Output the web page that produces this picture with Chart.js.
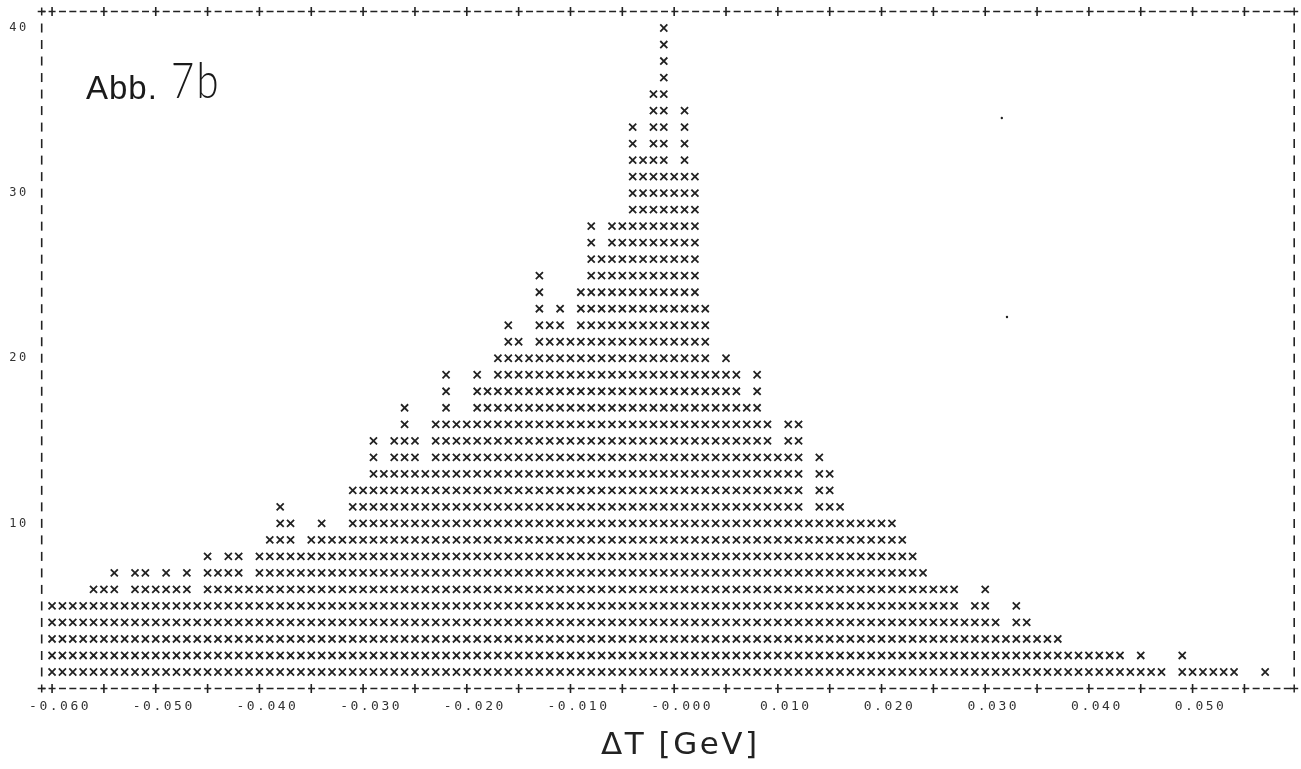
<!DOCTYPE html>
<html>
<head>
<meta charset="utf-8">
<title>Abb. 7b</title>
<script src="https://cdn.jsdelivr.net/npm/chart.js@4/dist/chart.umd.min.js"></script>
<style>
  html, body { margin: 0; padding: 0; background: #fff; }
  canvas { display: block; }
</style>
</head>
<body>
<canvas id="histogram" width="1301" height="769"></canvas>
<script>
'use strict';

// ─── Data ─────────────────────────────────────────────────────────────────────

// centre of each printer column, GeV
const binCentres = [
  -0.060, -0.059, -0.058, -0.057, -0.056, -0.055, -0.054, -0.053, -0.052, -0.051,
  -0.050, -0.049, -0.048, -0.047, -0.046, -0.045, -0.044, -0.043, -0.042, -0.041,
  -0.040, -0.039, -0.038, -0.037, -0.036, -0.035, -0.034, -0.033, -0.032, -0.031,
  -0.030, -0.029, -0.028, -0.027, -0.026, -0.025, -0.024, -0.023, -0.022, -0.021,
  -0.020, -0.019, -0.018, -0.017, -0.016, -0.015, -0.014, -0.013, -0.012, -0.011,
  -0.010, -0.009, -0.008, -0.007, -0.006, -0.005, -0.004, -0.003, -0.002, -0.001,
  0.000, 0.001, 0.002, 0.003, 0.004, 0.005, 0.006, 0.007, 0.008, 0.009,
  0.010, 0.011, 0.012, 0.013, 0.014, 0.015, 0.016, 0.017, 0.018, 0.019,
  0.020, 0.021, 0.022, 0.023, 0.024, 0.025, 0.026, 0.027, 0.028, 0.029,
  0.030, 0.031, 0.032, 0.033, 0.034, 0.035, 0.036, 0.037, 0.038, 0.039,
  0.040, 0.041, 0.042, 0.043, 0.044, 0.045, 0.046, 0.047, 0.048, 0.049,
  0.050, 0.051, 0.052, 0.053, 0.054, 0.055, 0.056, 0.057,
];

// number of x marks printed in each column
const binCounts = [
  5, 5, 5, 5, 6, 6, 7, 5, 7, 7,
  6, 7, 6, 7, 5, 8, 7, 8, 8, 6,
  8, 9, 11, 10, 8, 9, 10, 9, 9, 12,
  12, 15, 13, 15, 17, 15, 13, 16, 19, 16,
  16, 19, 18, 20, 22, 21, 20, 25, 22, 23,
  21, 24, 28, 26, 28, 28, 34, 32, 36, 40,
  31, 35, 31, 23, 19, 20, 19, 17, 19, 16,
  14, 16, 16, 10, 14, 13, 11, 10, 10, 10,
  10, 10, 9, 8, 7, 6, 6, 6, 4, 5,
  6, 4, 3, 5, 4, 3, 3, 3, 2, 2,
  2, 2, 2, 2, 1, 2, 1, 1, 0, 2,
  1, 1, 1, 1, 1, 0, 0, 1,
];

const xTickValues = [
  -0.060, -0.055, -0.050, -0.045, -0.040, -0.035, -0.030, -0.025, -0.020, -0.015, -0.010, -0.005,
  0.000, 0.005, 0.010, 0.015, 0.020, 0.025, 0.030, 0.035, 0.040, 0.045, 0.050, 0.055,
];
const xTickLabels = [
  '-0.060', '', '-0.050', '', '-0.040', '', '-0.030', '', '-0.020', '', '-0.010', '',
  '-0.000', '', '0.010', '', '0.020', '', '0.030', '', '0.040', '', '0.050', '',
];
const yTickValues = [10, 20, 30, 40];
const yTickLabels = ['10', '20', '30', '40'];

// stray specks on the scan
const speckX = [0.0316, 0.0321];
const speckY = [34.55, 22.5];

const X_MIN = -0.061;
const X_MAX = 0.0598;
const Y_MAX = 41;
const INK = '#222';

// ─── Point lists ──────────────────────────────────────────────────────────────

const histogramPoints = [];
binCounts.forEach((count, i) => {
  for (let row = 1; row <= count; row++) {
    histogramPoints.push({ x: binCentres[i], y: row });
  }
});

const frameMarks = [];
xTickValues.forEach((x) => {
  frameMarks.push({ x, y: 0 }, { x, y: Y_MAX });
});
for (let row = 1; row <= 40; row++) {
  frameMarks.push({ x: X_MIN, y: row }, { x: X_MAX, y: row });
}

const frameCorners = [
  { x: X_MIN, y: 0 }, { x: X_MAX, y: 0 },
  { x: X_MIN, y: Y_MAX }, { x: X_MAX, y: Y_MAX },
];

function dashedRule(y) {
  return {
    label: 'Frame rule',
    data: [{ x: X_MIN, y }, { x: X_MAX, y }],
    showLine: true,
    clip: false,
    pointRadius: 0,
    borderColor: INK,
    borderWidth: 1.4,
    borderDash: [7, 3.38],
    borderDashOffset: 3.5,
  };
}

// ─── Plugins ──────────────────────────────────────────────────────────────────

// the printout has very wide character spacing
const wideText = {
  id: 'wideText',
  beforeDraw(chart) {
    chart.ctx.letterSpacing = '2.5px';
  },
};

const figureLabel = {
  id: 'figureLabel',
  afterDraw(chart) {
    const ctx = chart.ctx;
    ctx.save();
    ctx.fillStyle = '#1a1a1a';
    ctx.textBaseline = 'alphabetic';
    ctx.letterSpacing = '1px';
    ctx.font = '33px "Liberation Sans"';
    ctx.fillText('Abb.', 86, 99);
    // the handwritten 7b is tall and narrow
    ctx.translate(171, 98);
    ctx.scale(0.8, 1);
    ctx.letterSpacing = '3px';
    ctx.font = '300 50px Lato';
    ctx.fillText('7b', 0, 0);
    ctx.restore();
  },
};

const noPadding = (s) => {
  s.paddingTop = 0;
  s.paddingBottom = 0;
  s.paddingLeft = 0;
  s.paddingRight = 0;
};

// ─── Chart ────────────────────────────────────────────────────────────────────

new Chart(document.getElementById('histogram'), {
  type: 'scatter',
  data: {
    datasets: [
      {
        label: 'Counts',
        data: histogramPoints,
        pointStyle: 'crossRot',
        pointRadius: 5,
        pointBorderWidth: 1.8,
        pointBorderColor: INK,
      },
      dashedRule(0),
      dashedRule(Y_MAX),
      {
        label: 'Frame marks',
        data: frameMarks,
        clip: false,
        pointStyle: 'line',
        pointRotation: 90,
        pointRadius: 4.5,
        pointBorderWidth: 1.6,
        pointBorderColor: INK,
      },
      {
        label: 'Frame corners',
        data: frameCorners,
        clip: false,
        pointStyle: 'cross',
        pointRadius: 4,
        pointBorderWidth: 1.5,
        pointBorderColor: INK,
      },
      {
        label: 'Specks',
        data: speckX.map((x, i) => ({ x, y: speckY[i] })),
        pointStyle: 'circle',
        pointRadius: 1.2,
        pointBorderWidth: 0,
        pointBackgroundColor: INK,
      },
    ],
  },
  options: {
    responsive: false,
    animation: false,
    layout: { padding: { left: 0, top: 0, right: 3.6, bottom: 0 } },
    plugins: { legend: { display: false }, tooltip: { enabled: false } },
    scales: {
      x: {
        type: 'linear',
        position: 'bottom',
        min: X_MIN,
        max: X_MAX,
        afterBuildTicks: (s) => { s.ticks = xTickValues.map((value) => ({ value })); },
        afterFit: (s) => { s.height = 80.5; noPadding(s); },
        grid: { display: false, drawTicks: false },
        border: { display: false },
        ticks: {
          autoSkip: false,
          maxRotation: 0,
          minRotation: 0,
          padding: 10,
          labelOffset: 8,
          color: '#333',
          font: { family: '"DejaVu Sans Mono"', size: 13 },
          callback: (v, i) => xTickLabels[i],
        },
        title: {
          display: true,
          // leading spaces: the typed title sits right of the axis centre
          text: '\u00a0\u00a0ΔT [GeV]',
          color: '#222',
          font: { family: '"DejaVu Sans"', size: 31 },
          padding: { top: 0, bottom: 4 },
        },
      },
      xTop: {
        type: 'linear',
        axis: 'x',
        position: 'top',
        min: X_MIN,
        max: X_MAX,
        afterFit: (s) => { s.height = 11.5; noPadding(s); },
        grid: { display: false, drawTicks: false },
        border: { display: false },
        ticks: { display: false },
      },
      y: {
        type: 'linear',
        position: 'left',
        min: 0,
        max: Y_MAX,
        afterBuildTicks: (s) => { s.ticks = yTickValues.map((value) => ({ value })); },
        afterFit: (s) => { s.width = 41.7; noPadding(s); },
        grid: { display: false, drawTicks: false },
        border: { display: false },
        ticks: {
          padding: 13,
          color: '#333',
          font: { family: '"DejaVu Sans Mono"', size: 12 },
          callback: (v, i) => yTickLabels[i],
        },
      },
    },
  },
  plugins: [wideText, figureLabel],
});
</script>
</body>
</html>
